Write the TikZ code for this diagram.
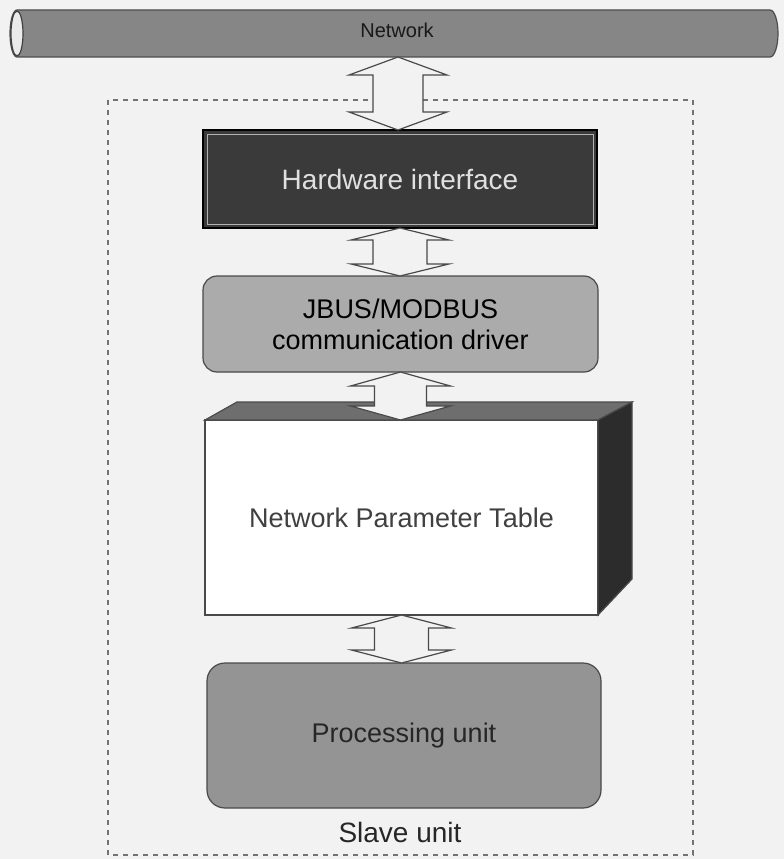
\documentclass[tikz,border=0pt]{standalone}
\usepackage{fontspec}
\setmainfont{Liberation Sans}
\usetikzlibrary{calc}
\definecolor{bgc}{HTML}{F2F2F2}
\definecolor{pipec}{HTML}{868686}
\definecolor{hwc}{HTML}{3A3A3A}
\definecolor{jbc}{HTML}{ABABAB}
\definecolor{prc}{HTML}{949494}
\definecolor{topc}{HTML}{6E6E6E}
\definecolor{sidec}{HTML}{2C2C2C}
\definecolor{linec}{HTML}{4A4A4A}
\tikzset{
  box/.style={draw=linec, line width=1.2pt, inner sep=0pt, outer sep=0pt, align=center},
  hwbox/.style={box, draw=black, fill=hwc, text=black!12, minimum width=394pt, minimum height=98pt, font=\fontsize{28}{32}\selectfont},
  jbbox/.style={box, fill=jbc, rounded corners=14pt, minimum width=395pt, minimum height=96pt, font=\fontsize{27}{31}\selectfont},
  tblbox/.style={box, fill=white, minimum width=393pt, minimum height=195pt, font=\fontsize{27}{31}\selectfont, text=black!75},
  prbox/.style={box, fill=prc, rounded corners=18pt, minimum width=394pt, minimum height=145pt, font=\fontsize{27}{31}\selectfont, text=black!85},
  arrowshape/.style={draw=linec, line width=1.2pt, fill=bgc, line join=miter},
  slave/.style={font=\fontsize{28}{32}\selectfont, text=black!85},
  dashedframe/.style={draw=black!55, line width=1.3pt, dash pattern=on 5pt off 5pt},
}
\newcommand{\dblarr}[5]{%
  \path[arrowshape] let \p1=(#1), \p2=(#2) in
  (\x1,\y1) -- (\x1+#3,\y1-#5) -- (\x1+#4,\y1-#5) -- (\x1+#4,\y2+#5) -- (\x1+#3,\y2+#5)
  -- (\x1,\y2) -- (\x1-#3,\y2+#5) -- (\x1-#4,\y2+#5) -- (\x1-#4,\y1-#5) -- (\x1-#3,\y1-#5) -- cycle;}
\begin{document}
\begin{tikzpicture}[x=1pt,y=-1pt]
\useasboundingbox (0,0) rectangle (784,859);
\fill[bgc] (0,0) rectangle (784,859);

% dashed frame
\draw[dashedframe] (108,100) rectangle (693,855);

% network pipe
\filldraw[fill=pipec, draw=black!70, line width=1.2pt]
  (17,10) -- (770,10) arc[start angle=-90, end angle=90, x radius=8, y radius=23.5]
  -- (17,57) arc[start angle=90, end angle=270, x radius=7, y radius=23.5] -- cycle;
\filldraw[fill=black!8, draw=black!75, line width=1.2pt] (17,33.5) ellipse[x radius=6, y radius=22.5];
\node[font=\fontsize{20}{22}\selectfont, text=black!90, inner sep=1pt] (net) at (397,30) {Network};
\coordinate (netbot) at (398,57);

% hardware interface
\node[hwbox] (hw) at (400,179) {Hardware interface};
\draw[black!30, line width=0.8pt] ($(hw.south west)+(4,-4)$) rectangle ($(hw.north east)+(-4,4)$);

% JBUS
\node[jbbox] (jb) at (400.5,324) {JBUS/MODBUS\\communication driver};

% table (3D block)
\node[tblbox] (tbl) at (401.5,517.5) {Network Parameter Table};
\filldraw[fill=topc, draw=linec, line width=1.2pt] (tbl.north west) -- ++(32,-18) -- ++(395,0) -- (tbl.north east) -- cycle;
\filldraw[fill=sidec, draw=linec, line width=1.2pt] (tbl.north east) -- ++(34,-18) -- ++(0,177) -- (tbl.south east) -- cycle;

% processing unit
\node[prbox] (pr) at (404,735.5) {Processing unit};
\node[slave] (sl) at (400,832) {Slave unit};

% double arrows
\dblarr{netbot}{hw.north}{49pt}{25pt}{18pt}
\dblarr{hw.south}{jb.north}{49pt}{27pt}{12pt}
\dblarr{jb.south}{tbl.north}{50pt}{26pt}{14pt}
\dblarr{tbl.south}{pr.north}{50pt}{27pt}{13pt}
\end{tikzpicture}
\end{document}
